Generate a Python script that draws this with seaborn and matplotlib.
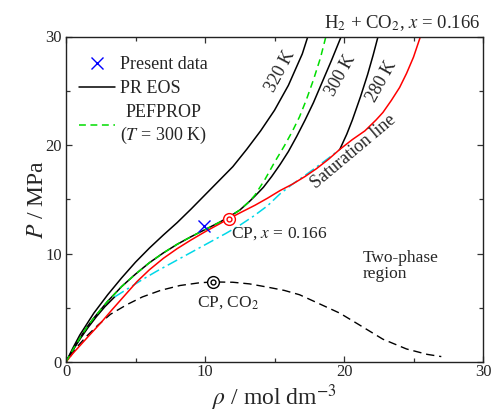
import matplotlib
matplotlib.use("Agg")
import matplotlib.pyplot as plt
import seaborn as sns
from matplotlib.lines import Line2D

# density (mol dm-3) / pressure (MPa)
rho_320 = [0, 0.5, 1.0, 2.0, 3.0, 4.0, 5.0, 6.0, 7.0, 8.0, 9.0, 10.0, 11.0, 12.0, 13.0, 14.0, 15.0, 16.0, 17.0, 17.4]
p_320 = [0, 1.3, 2.5, 4.5, 6.2, 7.75, 9.2, 10.5, 11.7, 12.85, 14.1, 15.4, 16.7, 18.0, 19.6, 21.3, 23.2, 25.5, 28.4, 30.0]

rho_300 = [0, 0.5, 1.0, 1.5, 2.0, 3.0, 4.0, 5.0, 6.0, 7.0, 8.0, 9.0, 10.0, 11.0, 11.7, 12.5, 13.2,
           13.6, 14.2, 14.8, 15.4, 16.0, 16.6, 17.2, 17.8, 18.4, 19.1, 19.8]
p_300 = [0, 1.15, 2.2, 3.2, 4.05, 5.6, 6.95, 8.1, 9.15, 10.05, 10.85, 11.55, 12.2, 12.85, 13.35, 14.0, 14.8,
         15.3, 16.1, 17.1, 18.2, 19.4, 20.8, 22.3, 23.9, 25.7, 27.8, 30.0]

rho_ref = [0, 0.5, 1.0, 1.5, 2.0, 3.0, 4.0, 5.0, 6.0, 7.0, 8.0, 9.0, 10.0, 11.0, 11.7, 12.5, 13.2,
           13.6, 14.3, 15.0, 15.7, 16.3, 16.8, 17.3, 17.8, 18.3, 18.7]
p_ref = [0, 1.15, 2.2, 3.2, 4.05, 5.6, 6.95, 8.1, 9.15, 10.05, 10.85, 11.55, 12.2, 12.85, 13.35, 14.0, 14.8,
         15.4, 16.8, 18.4, 19.9, 21.3, 22.6, 24.2, 26.0, 28.0, 30.0]

rho_280_gas = [0, 0.5, 1.0, 1.6, 2.2, 2.8, 3.5]
p_280_gas = [0, 1.1, 2.1, 3.2, 4.2, 5.1, 6.0]
rho_280_liq = [19.7, 20.2, 20.6, 21.2, 21.7, 22.1, 22.45]
p_280_liq = [19.6, 21.0, 22.3, 24.5, 26.5, 28.3, 30.0]

rho_280_2ph = [3.5, 4.5, 5.5, 6.5, 7.5, 8.5, 9.5, 10.5, 11.5, 12.5, 13.5, 14.5, 15.4, 16.3, 17.2, 18.0, 18.9, 19.7]
p_280_2ph = [6.0, 6.8, 7.6, 8.35, 9.05, 9.75, 10.45, 11.15, 11.85, 12.6, 13.45, 14.4, 15.5, 16.4, 17.2, 17.95, 18.8, 19.6]

rho_sat = [0, 0.5, 1.0, 1.6, 2.5, 3.3, 4.2, 5.1, 6.0, 7.0, 8.0, 9.0, 10.0, 11.0, 11.7, 12.6, 13.6, 14.5,
           15.4, 16.3, 17.2, 18.0, 18.9, 19.7, 20.6, 21.5, 22.3, 22.8, 23.4, 24.0, 24.5, 25.0, 25.5]
p_sat = [0, 0.8, 1.5, 2.35, 3.6, 4.8, 6.1, 7.4, 8.5, 9.55, 10.45, 11.25, 12.0, 12.7, 13.2, 13.8, 14.45, 15.1,
         15.8, 16.4, 17.1, 17.8, 18.7, 19.6, 20.5, 21.3, 22.3, 23.0, 24.1, 25.3, 26.6, 28.1, 30.0]

rho_co2 = [0.3, 0.8, 1.5, 2.3, 3.2, 4.4, 5.5, 6.8, 8.2, 9.6, 10.6, 12.0, 13.2, 14.5, 15.7, 16.8, 18.0,
           19.7, 21.0, 22.8, 24.5, 26.0, 27.0]
p_co2 = [0.5, 1.4, 2.4, 3.4, 4.4, 5.3, 6.0, 6.6, 7.05, 7.3, 7.38, 7.35, 7.2, 6.9, 6.6, 6.2, 5.5,
         4.5, 3.5, 2.1, 1.2, 0.7, 0.5]

rho_data = [9.9]
p_data = [12.5]
cp_mix = (11.7, 13.2)
cp_co2 = (10.6, 7.38)

sns.set_theme(style="ticks")
plt.rcParams["font.family"] = ["Liberation Serif", "DejaVu Serif"]
plt.rcParams["mathtext.fontset"] = "stix"

fig = plt.figure(figsize=(4.94, 4.16), dpi=100)
ax = fig.add_axes([66 / 494, 54 / 416, 417 / 494, 325.5 / 416])

green_dash = (0, (4.5, 3))
cyan_dashdot = (0, (7, 2.5, 1.5, 2.5))


def line(x, y, **kw):
    sns.lineplot(x=x, y=y, sort=False, estimator=None, ax=ax, **kw)


line(rho_co2, p_co2, color="black", lw=1.0, linestyle=(0, (6, 3.5)))
line(rho_320, p_320, color="black", lw=1.1)
line(rho_300, p_300, color="black", lw=1.1)
line(rho_280_gas, p_280_gas, color="black", lw=1.1)
line(rho_280_liq, p_280_liq, color="black", lw=1.1)
line(rho_280_2ph, p_280_2ph, color="#00d8e8", lw=1.1, linestyle=cyan_dashdot)
line(rho_sat, p_sat, color="red", lw=1.1)
line(rho_ref, p_ref, color="#00dd00", lw=1.1, linestyle=green_dash)

ax.plot(rho_data, p_data, "x", color="blue", ms=9, mew=1.0)
for cp, c in [(cp_mix, "red"), (cp_co2, "black")]:
    ax.plot([cp[0]], [cp[1]], "o", ms=8.5, mfc="white", mec=c, mew=1.0)
    ax.plot([cp[0]], [cp[1]], "o", ms=3.5, mfc="white", mec=c, mew=1.0)

# legend
handles = [
    Line2D([], [], marker="x", ls="none", color="blue", ms=9, mew=1.0),
    Line2D([], [], color="black", lw=1.1),
    Line2D([], [], color="#00dd00", lw=1.1, linestyle=green_dash),
]
labels = ["Present data", "PR EOS", "PEFPROP\n($T$ = 300 K)"]
leg = ax.legend(handles, labels, loc="upper left", bbox_to_anchor=(0.031, 0.94),
                frameon=False, fontsize=13, handlelength=2.0, handletextpad=0.28,
                labelspacing=0.4, borderaxespad=0, borderpad=0)
for t in leg.get_texts():
    t.set_multialignment("center")

# annotations
ax.text(15.4, 26.8, "320 K", rotation=62, fontsize=13, ha="center", va="center")
ax.text(19.8, 26.4, "300 K", rotation=61, fontsize=13, ha="center", va="center")
ax.text(22.75, 25.9, "280 K", rotation=61, fontsize=13, ha="center", va="center")
ax.text(20.7, 19.4, "Saturation line", rotation=40, fontsize=13, ha="center", va="center")
ax.text(11.85, 11.5, "CP, $x$ = 0.166", fontsize=12.5, ha="left", va="baseline")
ax.text(9.4, 5.1, "CP, CO$_2$", fontsize=12.5, ha="left", va="baseline")
ax.text(21.35, 10.3, "Two-phase\nregion", fontsize=12.5, ha="left", va="top", linespacing=0.95)
ax.text(0.993, 1.025, "H$_2$ + CO$_2$, $x$ = 0.166", transform=ax.transAxes,
        fontsize=13.5, ha="right", va="baseline")

ax.set_xlim(0, 30)
ax.set_ylim(0, 30)
ax.set_xticks([0, 10, 20, 30])
ax.set_yticks([0, 10, 20, 30])
ax.set_xticks([5, 15, 25], minor=True)
ax.set_yticks([5, 15, 25], minor=True)
ax.tick_params(which="both", direction="in", top=True, right=True, labelsize=12,
               color="#333333", width=0.9)
ax.tick_params(which="major", length=4.5)
ax.tick_params(which="minor", length=3)
ax.tick_params(axis="x", pad=1.5)
ax.tick_params(axis="y", pad=3)
for s in ax.spines.values():
    s.set_linewidth(1.0)
    s.set_color("#222222")
ax.set_xlabel(r"$\rho$ / mol dm$^{-3}$", fontsize=17, labelpad=2)
ax.set_ylabel(r"$P$ / MPa", fontsize=17, labelpad=-2)

fig.savefig("out.png", dpi=100)
